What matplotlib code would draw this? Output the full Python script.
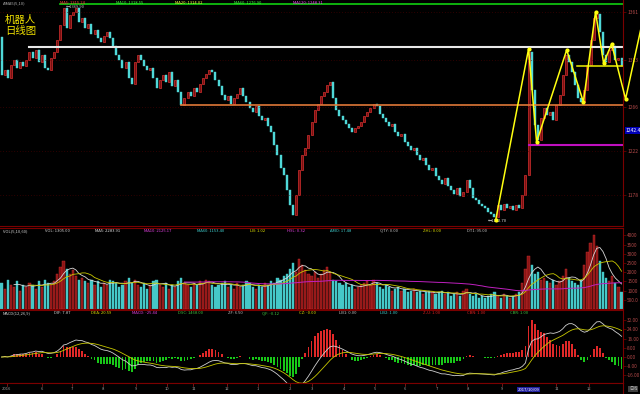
import numpy as np
import pandas as pd
import matplotlib
matplotlib.use("Agg")
import matplotlib.pyplot as plt
import matplotlib.transforms as mtransforms

plt.rcParams['font.family'] = ['Noto Sans CJK SC', 'DejaVu Sans']

# daily closes (open of each day = previous close)
first_open = 1336
closes = [
    1298, 1303, 1295, 1308, 1313, 1305, 1311, 1307, 1313, 1321,
    1315, 1323, 1311, 1318, 1305, 1303, 1315, 1321, 1333, 1348,
    1365, 1345, 1358, 1361, 1365, 1351, 1355, 1345, 1349, 1339,
    1343, 1335, 1331, 1337, 1341, 1335, 1327, 1318, 1313, 1305,
    1311, 1295, 1289, 1311, 1318, 1313, 1307, 1303, 1305, 1295,
    1285, 1293, 1298, 1291, 1301, 1287, 1293, 1281, 1268, 1275,
    1281, 1277, 1285, 1281, 1289, 1295, 1299, 1303, 1301, 1293,
    1287, 1278, 1273, 1277, 1269, 1275, 1279, 1285, 1277, 1271,
    1265, 1261, 1267, 1257, 1253, 1255, 1247, 1241, 1228, 1218,
    1205, 1198, 1183, 1168, 1158, 1178, 1203, 1218, 1225, 1238,
    1251, 1263, 1269, 1277, 1281, 1288, 1291, 1275, 1263, 1257,
    1253, 1249, 1245, 1241, 1245, 1247, 1251, 1257, 1261, 1265,
    1269, 1267, 1259, 1255, 1251, 1247, 1249, 1241, 1237, 1239,
    1231, 1227, 1223, 1225, 1218, 1213, 1215, 1208, 1203, 1205,
    1197, 1193, 1189, 1195, 1187, 1183, 1179, 1185, 1177, 1181,
    1193, 1185, 1175, 1173, 1169, 1167, 1165, 1161, 1159, 1156,
    1168, 1163, 1169, 1165, 1167, 1163, 1168, 1165, 1178, 1198,
    1321, 1283, 1248, 1233, 1255, 1265, 1258, 1261, 1253, 1268,
    1278, 1298, 1318, 1311, 1301, 1288, 1275, 1271, 1283, 1308,
    1333, 1355, 1359, 1341, 1318, 1311, 1323, 1327, 1313, 1315,
    1307,
]
volumes = [
    1400, 1100, 1600, 1300, 1200, 1500, 1000, 1300, 1200, 1400,
    1300, 1100, 1500, 1200, 1600, 1400, 1300, 1500, 1900, 2300,
    2600, 2200, 1900, 2100, 1800, 1600, 1700, 1500, 1400, 1600,
    1300, 1500, 1200, 1400, 1300, 1600, 1500, 1400, 1200, 1300,
    1500, 1700, 1400, 1600, 1300, 1200, 1400, 1100, 1300, 1500,
    1600, 1300, 1200, 1400, 1100, 1300, 1200, 1500, 1700, 1400,
    1300, 1200, 1400, 1300, 1500, 1400, 1600, 1500, 1300, 1200,
    1300, 1400, 1500, 1200, 1300, 1100, 1400, 1200, 1300, 1500,
    1400, 1200, 1100, 1300, 1200, 1400, 1300, 1500, 1400, 1700,
    1600, 1800, 1900, 2200, 2500, 2000, 2700, 2400, 2100, 1900,
    1800, 2000, 1700, 1900, 2100, 2300, 2000, 1600, 1500, 1400,
    1300, 1400, 1200, 1300, 1100, 1200, 1300, 1400, 1500, 1300,
    1600, 1400, 1200, 1100, 1300, 1200, 1000, 1100, 1200, 1000,
    1100, 900, 1000, 1100, 900, 1000, 800, 900, 1000, 900,
    800, 900, 1000, 800, 900, 700, 800, 900, 700, 1000,
    1100, 800, 700, 800, 600, 700, 600, 700, 800, 900,
    700, 600, 800, 700, 600, 700, 800, 900, 1400, 2200,
    2900, 2400, 1900, 2000, 1600, 1700, 1500, 1400, 1600, 1300,
    1500, 1800, 2200, 1700, 1500, 1400, 1300, 1600, 2400, 3100,
    3600, 4000, 3400, 2600, 2000, 1700, 1500, 1800, 1400, 1200,
    900,
]

# hand drawn wave line and support / resistance levels
zig_idx = [159.4, 170, 172.6, 182.3, 187.7, 191.6, 194.2, 196.8, 201.3, 206.5]
zig_price = [1153, 1324, 1231, 1323, 1271, 1361, 1310, 1329, 1274, 1348]
level_price = [1369, 1326, 1268, 1228, 1307]
level_from = [19, 9, 58, 170, 185.5]

price_ticks = [1178, 1222, 1266, 1313, 1361]
vol_ticks = [500, 1000, 1500, 2000, 2500, 3000, 3500, 4000]
macd_ticks = [-16, -8, 0, 8, 16, 24, 32]
month_idx = [1.6, 12.9, 22.6, 32.6, 43.5, 53.5, 61.9, 72.6, 82.6, 93.2,
             100.3, 110.6, 120.6, 130, 140.3, 150.3, 161.3, 179, 189.4]
month_lbl = ['2016', '6', '7', '8', '9', '10', '11', '12', '1', '2',
             '3', '4', '5', '6', '7', '8', '9', '11', '12']
cursor_price = 1242.4
cursor_date = '2017/10/09'

W, H = 640, 394
fig = plt.figure(figsize=(W / 100, H / 100), dpi=100, facecolor='black')


def px_axes(x0, y0, x1, y1):
    a = fig.add_axes([x0 / W, 1 - y1 / H, (x1 - x0) / W, (y1 - y0) / H])
    a.set_facecolor('black')
    for s in a.spines.values():
        s.set_color('#7a0000')
        s.set_linewidth(0.8)
    a.spines['left'].set_visible(False)
    a.set_xlim(-0.5, 623 / 3.1 - 0.5)
    a.set_xticks([])
    return a


ax = px_axes(0, 0, 623, 226)
axv = px_axes(0, 228, 623, 309)
axm = px_axes(0, 310, 623, 383)
axd = px_axes(0, 383, 623, 394)
ax.spines['top'].set_visible(False)

c = np.array(closes, dtype=float)
o = np.concatenate([[first_open], c[:-1]])
x = np.arange(len(c))
up = c >= o
RED_E, RED_F, CYAN = '#ff3a3a', '#7a1010', '#4fd8d8'

# candles
body = np.where(np.abs(c - o) < 0.8, 0.8, c - o)
ax.bar(x[up], body[up], bottom=o[up], width=0.62, color=RED_F,
       edgecolor=RED_E, linewidth=0.4)
ax.bar(x[~up], body[~up], bottom=o[~up], width=0.62, color=CYAN,
       edgecolor=CYAN, linewidth=0.3)
ax.set_ylim(1147, 1373)

for yv in price_ticks:
    ax.axhline(yv, color='#5a0000', lw=0.5, ls=(0, (1, 3)))

lv_colors = ['#10d010', '#e8e8e8', '#e07838', '#c010c0', '#f0f000']
lv_widths = [1.2, 1.5, 1.2, 1.5, 1.1]
for p, f, col, lw in zip(level_price, level_from, lv_colors, lv_widths):
    ax.plot([f, 200.5], [p, p], color=col, lw=lw)

ax.plot(zig_idx, zig_price, color='#ffff10', lw=1.1, clip_on=False,
        marker='o', ms=2, zorder=5)

ax.yaxis.tick_right()
ax.set_yticks(price_ticks)
ax.set_yticklabels([str(v) for v in price_ticks])
ax.tick_params(axis='y', colors='#7a0000', labelcolor='#b04848',
               labelsize=3.6, length=2, width=0.5, pad=1)

blend = mtransforms.blended_transform_factory(ax.transAxes, ax.transData)
ax.text(1.004, cursor_price, '%.1f' % cursor_price, transform=blend,
        fontsize=3.6, color='white', va='center', ha='left',
        bbox=dict(boxstyle='square,pad=0.15', fc='#0000b8', ec='none'))

imax, imin = int(np.argmax(c)), int(np.argmin(c))
ax.text(imax + 0.8, c[imax] + 1, '\u2190%.2f' % (c[imax] + 4.9), fontsize=3,
        color='#c0c0c0', va='center')
ax.text(imin - 2, c[imin] - 4, '\u2190%.2f' % (c[imin] - 3.3), fontsize=3,
        color='#e0e0e0', va='center')

ax.text(5 / 623, 1 - 15 / 226, '机器人\n日线图', fontsize=7.5, color='#f0e000',
        va='top', ha='left', multialignment='left', linespacing=1.1,
        transform=ax.transAxes)

# header lines
def header(axis, y, parts):
    for xp, txt, col in parts:
        axis.text(xp, y, txt, fontsize=3, color=col, va='top', ha='left',
                  transform=mtransforms.blended_transform_factory(
                      axis.transData, axis.transAxes), clip_on=False)


header(ax, 0.995, [(0.5, 'AIMA5(5,10)', '#b0b0b0'), (19, 'MA5: 1315.24', '#ff4040'),
                   (37, 'MA10: 1318.55', '#40ff40'), (56, 'MA20: 1314.02', '#ffff40'),
                   (75, 'MA60: 1276.90', '#40ff40'), (94, 'MA120: 1248.31', '#ff40ff')])

# volume
vol = np.array(volumes, dtype=float)
axv.bar(x[up], vol[up], width=0.72, color='#8a1515', edgecolor='#d03030',
        linewidth=0.3)
axv.bar(x[~up], vol[~up], width=0.72, color='#45c8c8', edgecolor='#45c8c8',
        linewidth=0.3)
vs = pd.Series(vol)
axv.plot(x, vs.rolling(5).mean(), color='#d8d8d8', lw=0.6)
axv.plot(x, vs.rolling(10).mean(), color='#c8c800', lw=0.6)
axv.plot(x, vs.rolling(60).mean(), color='#c020c0', lw=0.7)
axv.set_ylim(0, 4400)
axv.yaxis.tick_right()
axv.set_yticks(vol_ticks)
axv.set_yticklabels(['500.0'] + [str(v) for v in vol_ticks[1:]])
axv.tick_params(axis='y', colors='#7a0000', labelcolor='#b04848',
                labelsize=3.4, length=2, width=0.5, pad=1)
header(axv, 0.99, [(0.5, 'VOL(5,10,60)', '#d0d0d0'), (14, 'VOL: 1305.00', '#d0d0d0'),
                   (30, 'MA5: 2283.91', '#e0e0e0'), (46, 'MA10: 2125.17', '#e040e0'),
                   (63, 'MA60: 1153.40', '#40d0d0'), (80, 'LB: 1.02', '#e0e000'),
                   (92, 'HSL: 0.32', '#e040e0'), (106, 'AMO: 17.48', '#40d0d0'),
                   (122, 'QTY: 0.00', '#c0c0c0'), (136, 'ZHL: 0.00', '#e0e000'),
                   (150, 'DT1: 95.00', '#c0c0c0')])

# MACD
cs = pd.Series(c)
dif = cs.ewm(span=12, adjust=False).mean() - cs.ewm(span=26, adjust=False).mean()
dea = dif.ewm(span=9, adjust=False).mean()
hist = 2 * (dif - dea)
pos = hist >= 0
axm.bar(x[pos], hist[pos], width=0.6, color='#e02828')
axm.bar(x[~pos], hist[~pos], width=0.6, color='#18c818')
axm.plot(x, dif, color='#d0d0d0', lw=0.6)
axm.plot(x, dea, color='#c8c800', lw=0.6)
axm.set_ylim(-22.6, 40.9)
axm.yaxis.tick_right()
axm.set_yticks(macd_ticks)
axm.set_yticklabels(['%.2f' % v for v in macd_ticks])
axm.tick_params(axis='y', colors='#7a0000', labelcolor='#b04848',
                labelsize=3.4, length=2, width=0.5, pad=1)
header(axm, 0.985, [(0.5, 'MACD(12,26,9)', '#d0d0d0'), (17, 'DIF: 7.87', '#d0d0d0'),
                    (29, 'DEA: 20.59', '#e0e000'), (42, 'MACD: -25.44', '#e040e0'),
                    (57, 'DSC: 1468.00', '#40c040'), (73, 'ZF: 6.50', '#c0c0c0'),
                    (84, 'QF: -0.12', '#40c040'), (96, 'CZ: -0.00', '#e0e000'),
                    (109, 'LB1: 0.00', '#c0c0c0'), (122, 'LB2: 1.00', '#40d0d0'),
                    (136, 'ZJJ: 1.00', '#e02020'), (150, 'CBN: 1.00', '#e02020'),
                    (164, 'CBR: 1.00', '#40c040')])

# date axis
axd.set_ylim(0, 1)
axd.set_yticks([])
for xi, lb in zip(month_idx, month_lbl):
    axd.plot([xi, xi], [0.75, 1], color='#a02020', lw=0.5)
    axd.text(xi, 0.42, lb, fontsize=3, color='#a0a0a0', ha='center', va='center')
axd.text(170, 0.42, cursor_date, fontsize=3, color='white', ha='center',
         va='center', bbox=dict(boxstyle='square,pad=0.2', fc='#2020a0', ec='none'))
fig.text(629 / W, 1 - 389 / H, '日线', fontsize=3, color='#c0c0c0', ha='left',
         va='center', bbox=dict(boxstyle='square,pad=0.15', fc='#404040', ec='none'))

fig.savefig('out.png', dpi=100, facecolor='black')
